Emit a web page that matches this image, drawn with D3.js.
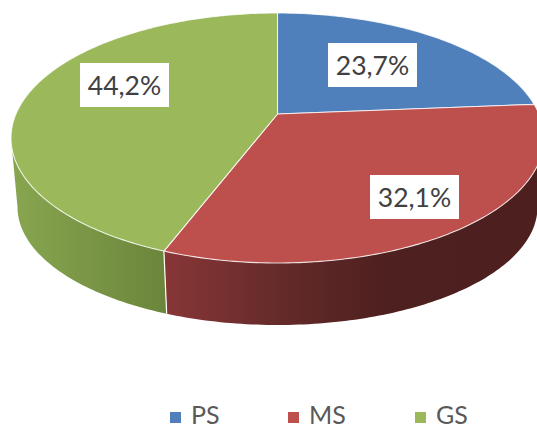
<!DOCTYPE html>
<html lang="en">
<head>
  <meta charset="UTF-8">
  <title>PS MS GS pie</title>
  <script src="https://d3js.org/d3.v7.min.js"></script>
  <style>
    html, body { margin: 0; padding: 0; background: #fff; overflow: hidden; }
    text { font-family: Lato, "Open Sans", sans-serif; }
  </style>
</head>
<body>
  <svg width="537" height="428"></svg>

  <script>
    // values
    const categories = ["PS", "MS", "GS"];
    const shares = [23.7, 32.1, 44.2];
    const labels = ["23,7%", "32,1%", "44,2%"];
    const colors = ["#4f80bc", "#bd4f4c", "#9bb85a"];

    // label centres, legend slots
    const labelX = [372.5, 414.5, 124.5];
    const labelY = [65, 197, 85];
    const legendX = [170, 288, 415];

    const svg = d3.select("svg");
    const defs = svg.append("defs");

    // the disc is tilted with some perspective, so the apex sits above the ellipse centre
    const k = -0.192;
    const topDisc = { cx: 277.5, cy: 138, rx: 266.5, ry: 125 };
    const bottomDisc = { cx: 277.5, cy: 207, rx: 260, ry: 118 };

    function project(disc, angle, r = 1) {
      const u = r * Math.sin(angle), v = -r * Math.cos(angle);
      const w = 1 + k * v;
      return [
        disc.cx + disc.rx * Math.sqrt(1 - k * k) * u / w,
        disc.cy + disc.ry * (v + k) / w
      ];
    }

    const arcs = d3.pie().sort(null)(shares);
    const line = d3.line();

    function rim(disc, a0, a1) {
      const n = Math.ceil((a1 - a0) * 60);
      return d3.range(n + 1).map(i => project(disc, a0 + (a1 - a0) * i / n));
    }

    // side wall gradients
    function gradient(id, x1, x2, stops) {
      const g = defs.append("linearGradient").attr("id", id)
        .attr("gradientUnits", "userSpaceOnUse")
        .attr("x1", x1).attr("x2", x2).attr("y1", 0).attr("y2", 0);
      stops.forEach(s => g.append("stop").attr("offset", s[0]).attr("stop-color", s[1]));
    }
    gradient("wall-1", 167, 537, [[0, "#873636"], [0.3, "#652b2a"], [0.58, "#4e201f"], [1, "#4d1f1e"]]);
    gradient("wall-2", 11, 167, [[0, "#88a650"], [1, "#6b853b"]]);

    // walls only run between the widest points of the ellipse, the rest is behind the top face
    const rightEdge = Math.acos(k);
    const leftEdge = 2 * Math.PI - rightEdge;
    [1, 2].forEach(i => {
      const a0 = Math.max(arcs[i].startAngle, rightEdge);
      const a1 = Math.min(arcs[i].endAngle, leftEdge);
      const pts = rim(topDisc, a0, a1).concat(rim(bottomDisc, a0, a1).reverse());
      svg.append("path")
        .attr("d", line(pts) + "Z")
        .attr("fill", `url(#wall-${i})`);
    });

    // seam between the two walls
    const seam = arcs[2].startAngle;
    svg.append("path")
      .attr("d", line([project(topDisc, seam), project(bottomDisc, seam)]))
      .attr("stroke", "#fff")
      .attr("stroke-width", 1.2)
      .attr("fill", "none");

    // top face
    arcs.forEach((a, i) => {
      const pts = [project(topDisc, 0, 0)].concat(rim(topDisc, a.startAngle, a.endAngle));
      svg.append("path")
        .attr("d", line(pts) + "Z")
        .attr("fill", colors[i])
        .attr("stroke", "#fff")
        .attr("stroke-opacity", 0.8)
        .attr("stroke-width", 1.1)
        .attr("stroke-linejoin", "round");
    });

    // value labels on white boxes
    labels.forEach((t, i) => {
      svg.append("rect")
        .attr("x", labelX[i] - 44.5).attr("y", labelY[i] - 22)
        .attr("width", 89).attr("height", 44)
        .attr("fill", "#fff");
      svg.append("text")
        .attr("x", labelX[i]).attr("y", labelY[i] + 10)
        .attr("text-anchor", "middle")
        .attr("font-size", 26.5)
        .attr("fill", "#404040")
        .text(t);
    });

    // legend, kept just high enough that the text box stays inside the page
    categories.forEach((c, i) => {
      svg.append("rect")
        .attr("x", legendX[i]).attr("y", 412)
        .attr("width", 11).attr("height", 11)
        .attr("fill", colors[i]);
      svg.append("text")
        .attr("x", legendX[i] + 21).attr("y", 424)
        .attr("font-size", 25)
        .attr("fill", "#595959")
        .text(c);
    });
  </script>
</body>
</html>
